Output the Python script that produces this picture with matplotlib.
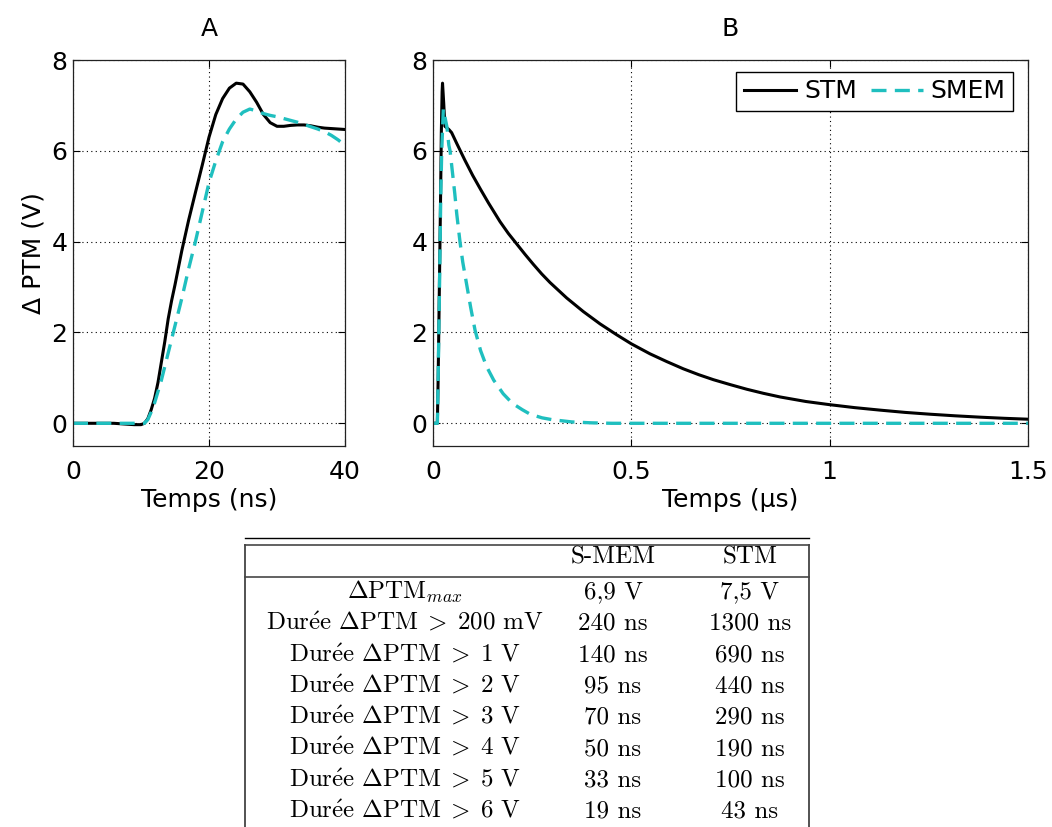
import matplotlib
matplotlib.use("Agg")
import matplotlib.pyplot as plt
from matplotlib.lines import Line2D

plt.rcParams['font.family'] = ['DejaVu Sans']
plt.rcParams['mathtext.fontset'] = 'cm'

# ---------------- data ----------------
# Panel A (time in ns)
tA_stm = [0, 2, 4, 6, 8, 9, 10, 10.5, 11, 11.5, 12, 12.5, 13, 13.5, 14, 14.5, 15, 16, 17, 18,
          19, 20, 21, 22, 23, 24, 25, 26, 27, 28, 29, 30, 31, 32, 33, 34, 35, 36, 37, 38, 39, 40]
vA_stm = [0, 0, 0, 0, -0.02, -0.03, -0.03, 0.0, 0.1, 0.3, 0.55, 0.9, 1.35, 1.8, 2.3, 2.7, 3.05, 3.8,
          4.47, 5.08, 5.68, 6.3, 6.8, 7.15, 7.38, 7.49, 7.47, 7.3, 7.07, 6.8, 6.62, 6.54, 6.54, 6.56,
          6.57, 6.57, 6.55, 6.52, 6.5, 6.49, 6.48, 6.47]
tA_smem = [0, 2, 4, 6, 8, 10, 10.5, 11, 11.5, 12, 12.5, 13, 13.5, 14, 14.5, 15, 16, 17, 18, 19, 20,
           21, 22, 23, 24, 25, 26, 27, 28, 29, 30, 31, 32, 33, 34, 35, 36, 37, 38, 39, 40]
vA_smem = [0, 0, 0, 0, 0, 0, 0.0, 0.08, 0.25, 0.45, 0.7, 0.95, 1.25, 1.55, 1.85, 2.15, 2.75, 3.4,
           4.0, 4.65, 5.3, 5.78, 6.2, 6.48, 6.7, 6.85, 6.92, 6.88, 6.82, 6.78, 6.75, 6.71, 6.67, 6.63,
           6.58, 6.53, 6.48, 6.42, 6.34, 6.24, 6.12]

# Panel B (time in us)
tB_stm = [0, 0.008, 0.011, 0.013, 0.015, 0.017, 0.019, 0.021, 0.023, 0.024, 0.027, 0.03, 0.04,
          0.047, 0.06, 0.08, 0.1, 0.12, 0.14, 0.169, 0.19, 0.211, 0.232, 0.253, 0.274, 0.295,
          0.337, 0.379, 0.421, 0.463, 0.5, 0.547, 0.589, 0.631, 0.67, 0.707, 0.75, 0.791, 0.833,
          0.875, 0.94, 1.0, 1.063, 1.127, 1.19, 1.253, 1.316, 1.379, 1.44, 1.5]
vB_stm = [0, 0, 0, 1.0, 2.3, 3.6, 4.9, 6.4, 7.3, 7.49, 7.05, 6.54, 6.47, 6.4, 6.16, 5.8, 5.46,
          5.15, 4.85, 4.44, 4.18, 3.95, 3.72, 3.5, 3.29, 3.1, 2.76, 2.46, 2.19, 1.95, 1.75, 1.53,
          1.36, 1.2, 1.07, 0.96, 0.85, 0.75, 0.66, 0.58, 0.48, 0.41, 0.345, 0.29, 0.24, 0.2,
          0.165, 0.135, 0.11, 0.09]
tB_smem = [0, 0.011, 0.0115, 0.013, 0.0147, 0.0164, 0.018, 0.0195, 0.022, 0.026, 0.03, 0.035,
           0.04, 0.043, 0.05, 0.055, 0.06, 0.068, 0.075, 0.086, 0.095, 0.106, 0.12, 0.135, 0.153,
           0.177, 0.2, 0.225, 0.245, 0.275, 0.3, 0.35, 0.4, 0.45, 0.75, 1.0, 1.25, 1.5]
vB_smem = [0, 0, 0.2, 1.0, 2.0, 3.0, 4.0, 5.0, 6.0, 6.92, 6.75, 6.53, 6.12, 6.0, 5.45, 5.05, 4.6,
           4.0, 3.55, 3.0, 2.55, 2.05, 1.6, 1.25, 0.95, 0.65, 0.44, 0.3, 0.2, 0.12, 0.08, 0.03,
           0.01, 0.0, 0.0, 0.0, 0.0, 0.0]

series_names = ['STM', 'SMEM']

# Table
table_header = ['', 'S-MEM', 'STM']
row_labels = [r'$\Delta\mathrm{PTM}_{max}$',
              r'$\mathrm{Dur\acute{e}e}\ \Delta\mathrm{PTM}\;>\;200\ \mathrm{mV}$',
              r'$\mathrm{Dur\acute{e}e}\ \Delta\mathrm{PTM}\;>\;1\ \mathrm{V}$',
              r'$\mathrm{Dur\acute{e}e}\ \Delta\mathrm{PTM}\;>\;2\ \mathrm{V}$',
              r'$\mathrm{Dur\acute{e}e}\ \Delta\mathrm{PTM}\;>\;3\ \mathrm{V}$',
              r'$\mathrm{Dur\acute{e}e}\ \Delta\mathrm{PTM}\;>\;4\ \mathrm{V}$',
              r'$\mathrm{Dur\acute{e}e}\ \Delta\mathrm{PTM}\;>\;5\ \mathrm{V}$',
              r'$\mathrm{Dur\acute{e}e}\ \Delta\mathrm{PTM}\;>\;6\ \mathrm{V}$']
smem_vals = ['6,9 V', '240 ns', '140 ns', '95 ns', '70 ns', '50 ns', '33 ns', '19 ns']
stm_vals = ['7,5 V', '1300 ns', '690 ns', '440 ns', '290 ns', '190 ns', '100 ns', '43 ns']

# ---------------- figure ----------------
W, H = 1052, 827
fig = plt.figure(figsize=(W / 100, H / 100), dpi=100)

CYAN = '#1fbfbf'
FS = 18


def px_axes(l, t, r, b):
    return fig.add_axes([l / W, 1 - b / H, (r - l) / W, (b - t) / H])


def style(ax):
    ax.grid(True, color='black', linestyle=(0, (1, 3)), linewidth=0.8)
    ax.tick_params(direction='in', top=True, right=True, length=5, labelsize=FS)
    ax.tick_params(axis='x', pad=10)
    ax.tick_params(axis='y', pad=4)
    for s in ax.spines.values():
        s.set_linewidth(0.9)
        s.set_color('#222222')


axA = px_axes(73, 60, 345, 446)
axA.plot(tA_stm, vA_stm, color='black', lw=2.2)
axA.plot(tA_smem, vA_smem, color=CYAN, lw=2.4, dashes=(4.5, 2.5))
axA.set_xlim(0, 40)
axA.set_ylim(-0.5, 8)
axA.set_xticks([0, 20, 40])
axA.set_yticks([0, 2, 4, 6, 8])
axA.set_xlabel('Temps (ns)', fontsize=FS, labelpad=3)
axA.set_ylabel('\u0394 PTM (V)', fontsize=FS, labelpad=4)
axA.set_title('A', fontsize=FS, pad=17)
style(axA)

axB = px_axes(433, 60, 1028, 446)
axB.plot(tB_stm, vB_stm, color='black', lw=2.2, label=series_names[0])
axB.plot(tB_smem, vB_smem, color=CYAN, lw=2.4, dashes=(4.5, 2.5), label=series_names[1])
axB.set_xlim(0, 1.5)
axB.set_ylim(-0.5, 8)
axB.set_xticks([0, 0.5, 1, 1.5])
axB.set_xticklabels(['0', '0.5', '1', '1.5'])
axB.set_yticks([0, 2, 4, 6, 8])
axB.set_xlabel('Temps (\u03bcs)', fontsize=FS, labelpad=3)
axB.set_title('B', fontsize=FS, pad=17)
style(axB)
leg = axB.legend(loc='upper right', ncol=2, fontsize=FS, frameon=True, fancybox=False,
                 edgecolor='black', framealpha=1, borderaxespad=0,
                 bbox_to_anchor=((1013 - 433) / 595, 1 - (72 - 60) / 386),
                 handlelength=2.1, handletextpad=0.3, columnspacing=0.55, borderpad=0.3)
leg.get_frame().set_linewidth(1.0)

# ---------------- table ----------------
def fx(x):
    return x / W


def fy(y):
    return 1 - y / H


TL, TR = 245, 809
fig.add_artist(Line2D([fx(TL), fx(TR)], [fy(537.5), fy(537.5)], color='black', lw=1.0))
fig.add_artist(Line2D([fx(TL), fx(TR)], [fy(544.5), fy(544.5)], color='#555555', lw=1.3))
fig.add_artist(Line2D([fx(TL), fx(TR)], [fy(577), fy(577)], color='#555555', lw=1.3))
fig.add_artist(Line2D([fx(TL), fx(TL)], [fy(544.5), 0], color='#444444', lw=1.3))
fig.add_artist(Line2D([fx(TR), fx(TR)], [fy(544.5), 0], color='#444444', lw=1.3))

col_x = [405, 613, 750]
TFS = 18
hdr_base = 564
for j, txt in enumerate(table_header):
    if txt:
        fig.text(fx(col_x[j]), fy(hdr_base), txt, ha='center', va='baseline',
                 fontsize=TFS, family='cmr10')

row0 = 598.5
dy = 31.3
for i in range(len(row_labels)):
    yb = fy(row0 + i * dy)
    fig.text(fx(col_x[0]), yb, row_labels[i], ha='center', va='baseline', fontsize=TFS)
    fig.text(fx(col_x[1]), yb, smem_vals[i], ha='center', va='baseline', fontsize=TFS,
             family='cmr10')
    fig.text(fx(col_x[2]), yb, stm_vals[i], ha='center', va='baseline', fontsize=TFS,
             family='cmr10')

fig.savefig('out.png', dpi=100)
